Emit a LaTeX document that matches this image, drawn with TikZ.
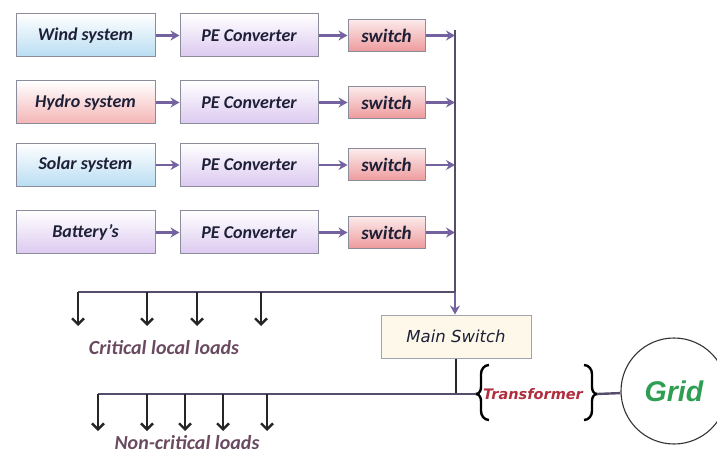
\documentclass[tikz,border=0pt]{standalone}
\usepackage{fontspec}
\setmainfont{Carlito}
\newfontfamily\verdfont{DejaVu Sans}
\newfontfamily\arialfont{Liberation Sans}
\usetikzlibrary{arrows.meta}

\definecolor{boxline}{HTML}{8A8C9C}
\definecolor{txtnavy}{HTML}{1E2038}
\definecolor{bluebot}{HTML}{B9DDF2}
\definecolor{redbot}{HTML}{F4B4B4}
\definecolor{lilacbot}{HTML}{DCC9F0}
\definecolor{swbot}{HTML}{EE9A9C}
\definecolor{arrowpurple}{HTML}{7462A0}
\definecolor{busline}{HTML}{564C6C}
\definecolor{loadtxt}{HTML}{6A4A60}
\definecolor{mainfill}{HTML}{FDF8EA}
\definecolor{trafored}{HTML}{B02E3E}
\definecolor{gridgreen}{HTML}{2E9E52}

\begin{document}
\begin{tikzpicture}[x=1pt, y=-1pt,
	srcbox/.style={draw=boxline, line width=1pt, inner sep=0pt, minimum width=139pt, minimum height=43pt,
		font=\bfseries\itshape\fontsize{18}{21}\selectfont, text=txtnavy},
	blue/.style={srcbox, top color=white, bottom color=bluebot},
	rose/.style={srcbox, top color=white, bottom color=redbot},
	lilac/.style={srcbox, top color=white, bottom color=lilacbot},
	swbox/.style={draw=boxline, line width=1pt, inner sep=0pt, minimum width=77pt, minimum height=32pt,
		top color=white!80!swbot, bottom color=swbot,
		font=\bfseries\itshape\fontsize{19}{22}\selectfont, text=txtnavy},
	feed/.style={-{Stealth[length=9pt, width=10pt, inset=3pt]}, draw=arrowpurple, line width=2.4pt},
	bus/.style={draw=busline, line width=2.4pt},
	load/.style={-{Straight Barb[length=6pt, width=12pt]}, draw=black!85, line width=2.4pt},
	loadlabel/.style={font=\bfseries\itshape\fontsize{20}{24}\selectfont, text=loadtxt}]
	\useasboundingbox (0,0) rectangle (717,454);

	% sources
	\node (wind) at (85.5, 35.5) [blue] {Wind system};
	\node (hydro) at (85.5, 102.5) [rose] {Hydro system};
	\node (solar) at (85.5, 165) [blue] {Solar system};
	\node (batt) at (85.5, 232.5) [lilac] {Battery's};
		\node (pe1) at (249, 35.5) [lilac, minimum width=138pt] {PE Converter};
		\node (pe2) at (249, 102.5) [lilac, minimum width=138pt] {PE Converter};
		\node (pe3) at (249, 165) [lilac, minimum width=138pt] {PE Converter};
		\node (pe4) at (249, 232.5) [lilac, minimum width=138pt] {PE Converter};
			\node (sw1) at (386.5, 35.5) [swbox] {switch};
			\node (sw2) at (386.5, 102.5) [swbox] {switch};
			\node (sw3) at (386.5, 165) [swbox] {switch};
			\node (sw4) at (386.5, 232.5) [swbox] {switch};
	\draw[feed] (wind) to (pe1);
	\draw[feed] (hydro) to (pe2);
	\draw[feed] (solar) to (pe3);
	\draw[feed] (batt) to (pe4);
	\draw[feed] (pe1) to (sw1);
	\draw[feed] (pe2) to (sw2);
	\draw[feed] (pe3) to (sw3);
	\draw[feed] (pe4) to (sw4);

	% common bus
	\coordinate (bustop) at (455, 30);
	\coordinate (b1) at (455, 35.5);
	\coordinate (b2) at (455, 102.5);
	\coordinate (b3) at (455, 165);
	\coordinate (b4) at (455, 232.5);
	\coordinate (bcrit) at (455, 292);
	\draw[feed] (sw1) to (b1);
	\draw[feed] (sw2) to (b2);
	\draw[feed] (sw3) to (b3);
	\draw[feed] (sw4) to (b4);

	\node (main) at (456, 336.5) [draw=boxline!80, line width=1pt, fill=mainfill, minimum width=150pt, minimum height=43pt,
		font=\verdfont\itshape\fontsize{16.5}{20}\selectfont, text=txtnavy] {Main Switch};
	\draw[bus] (bustop) -- (bcrit);
	\draw[feed] (bcrit) -- (main.north -| bcrit);

	% critical loads
	\coordinate (c1) at (78, 292);
	\coordinate (c2) at (147, 292);
	\coordinate (c3) at (197, 292);
	\coordinate (c4) at (261, 292);
	\draw[bus] (c1) -- (bcrit);
	\draw[load] (c1) -- ++(0, 34);
	\draw[load] (c2) -- ++(0, 34);
	\draw[load] (c3) -- ++(0, 34);
	\draw[load] (c4) -- ++(0, 34);
	\node (critlabel) at (164, 348) [loadlabel] {Critical local loads};

	% transformer and grid
	\node (trafo) at (533, 394) [font=\verdfont\bfseries\itshape\fontsize{14.5}{17}\selectfont, text=trafored] {Transformer};
	\node (grid) at (674, 391) [circle, draw=black!80, line width=1.1pt, minimum size=106pt,
		font=\arialfont\bfseries\itshape\fontsize{28.5}{32}\selectfont, text=gridgreen] {Grid};
	\coordinate (tl) at (476, 394);
	\coordinate (tr) at (597, 394);
	\draw[black, line width=2.4pt] (489, 365) to[out=180, in=90] (481, 374) -- (481, 387)
		to[out=-90, in=0] (tl) to[out=0, in=90] (481, 401) -- (481, 411) to[out=-90, in=180] (489, 420);
	\draw[black, line width=2.4pt] (584, 365) to[out=0, in=90] (592, 374) -- (592, 387)
		to[out=-90, in=180] (tr) to[out=180, in=90] (592, 401) -- (592, 411) to[out=-90, in=0] (584, 420);
	\draw[bus] (tr) -- (grid);

	% non-critical loads
	\coordinate (mtap) at (456, 394);
	\coordinate (n1) at (98, 394);
	\coordinate (n2) at (147, 394);
	\coordinate (n3) at (185, 394);
	\coordinate (n4) at (223, 394);
	\coordinate (n5) at (267, 394);
	\draw[black!85, line width=2.4pt] (main.south -| mtap) -- (mtap);
	\draw[bus] (n1) -- (tl);
	\draw[load] (n1) -- ++(0, 37);
	\draw[load] (n2) -- ++(0, 37);
	\draw[load] (n3) -- ++(0, 37);
	\draw[load] (n4) -- ++(0, 37);
	\draw[load] (n5) -- ++(0, 37);
	\node (noncritlabel) at (187, 443) [loadlabel] {Non-critical loads};
\end{tikzpicture}
\end{document}
